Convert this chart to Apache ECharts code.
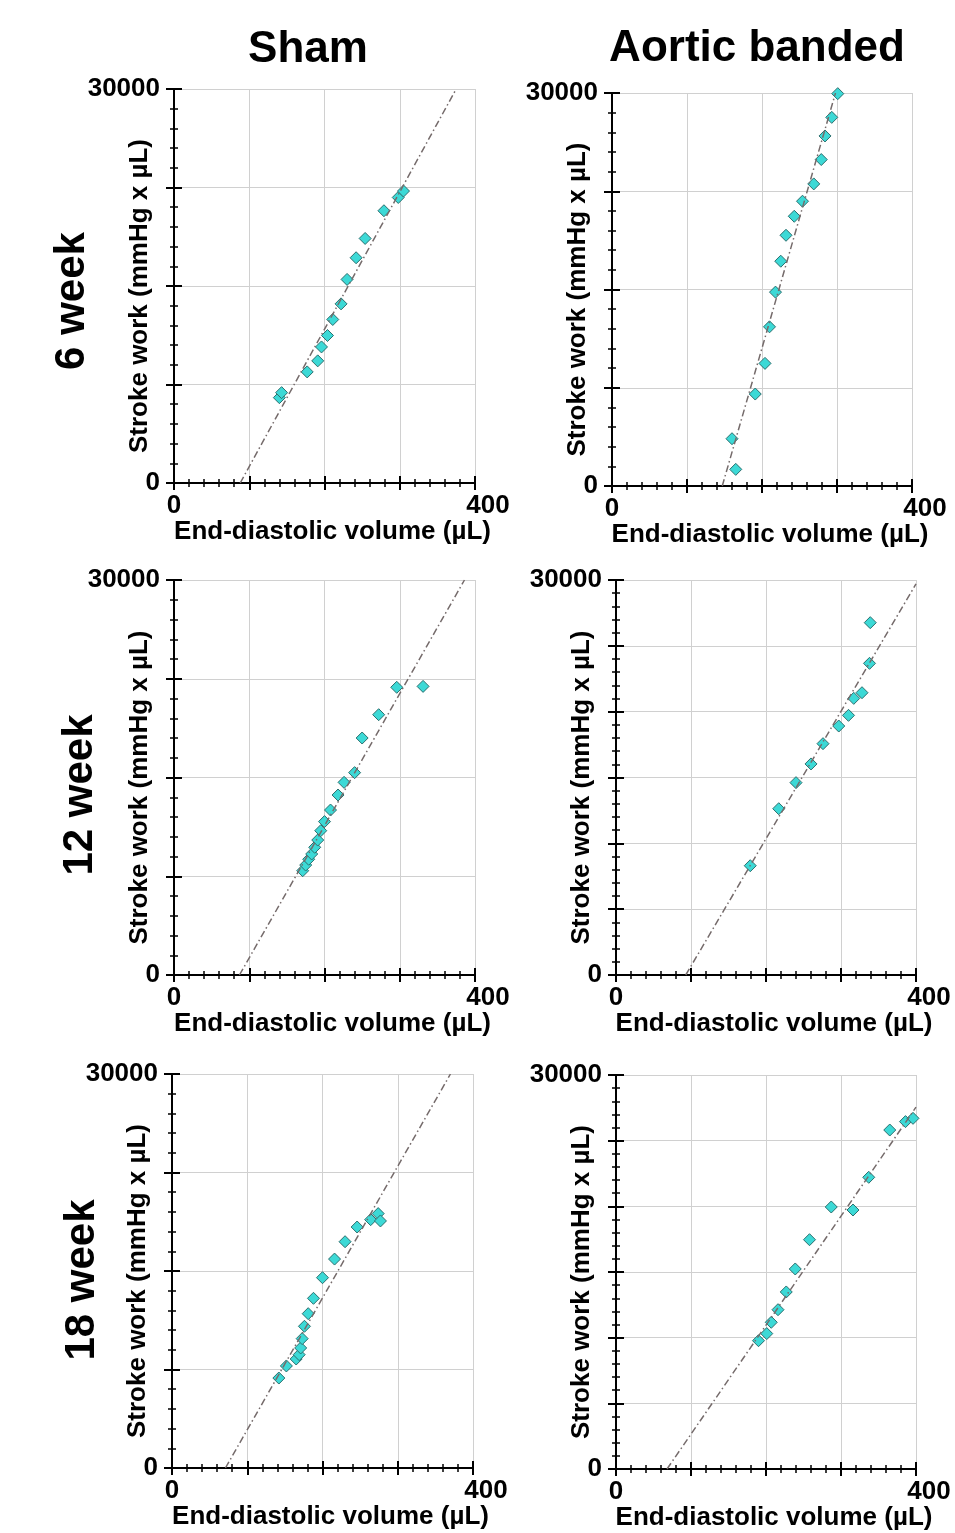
<!DOCTYPE html>
<html>
<head>
    <meta charset="utf-8">
    <title>Stroke work vs end-diastolic volume</title>
    <script src="https://cdn.jsdelivr.net/npm/echarts@6/dist/echarts.min.js"></script>
    <style>
        html, body { margin: 0; padding: 0; background: #fff; }
        #main { width: 955px; height: 1533px; }
    </style>
</head>
<body>
<div id="main"></div>
<script type="text/javascript">
    // data: x = end-diastolic volume (uL), y = stroke work (mmHg x uL)
    var sham6Edv = [140, 143, 177, 191, 196, 204, 211, 222, 230, 242, 254, 279, 298, 305];
    var sham6Sw = [6500, 6880, 8460, 9300, 10360, 11230, 12450, 13640, 15500, 17150, 18620, 20730, 21740, 22230];
    var ab6Edv = [165, 160, 191, 204, 210, 218, 225, 232, 243, 254, 269, 279, 284, 293, 301];
    var ab6Sw = [1270, 3610, 7020, 9360, 12150, 14800, 17160, 19140, 20590, 21740, 23060, 24920, 26720, 28140, 29950];

    var sham12Edv = [171, 175, 179, 183, 187, 191, 195, 200, 208, 218, 226, 240, 250, 272, 296, 331];
    var sham12Sw = [7920, 8350, 8790, 9190, 9700, 10250, 10960, 11650, 12530, 13670, 14630, 15370, 18000, 19770, 21850, 21920];
    var ab12Edv = [179, 217, 240, 260, 276, 297, 310, 317, 328, 338, 339];
    var ab12Sw = [8300, 12630, 14610, 16030, 17570, 18910, 19720, 21010, 21440, 23670, 26760];

    var sham18Edv = [142, 152, 165, 169, 171, 173, 176, 181, 188, 200, 216, 230, 246, 264, 274, 277];
    var sham18Sw = [6850, 7770, 8300, 8630, 9140, 9850, 10790, 11750, 12920, 14490, 15910, 17230, 18350, 18910, 19370, 18810];
    var ab18Edv = [190, 201, 207, 216, 227, 239, 258, 287, 316, 337, 365, 386, 396];
    var ab18Sw = [9770, 10310, 11170, 12130, 13480, 15230, 17460, 19950, 19720, 22210, 25810, 26450, 26700];

    // end points of the regression lines
    var sham6FitEdv = [88, 375], sham6FitSw = [0, 30000];
    var ab6FitEdv = [147, 298], ab6FitSw = [0, 30000];
    var sham12FitEdv = [87, 386], sham12FitSw = [0, 30000];
    var ab12FitEdv = [93, 400], ab12FitSw = [0, 29700];
    var sham18FitEdv = [71, 370], sham18FitSw = [0, 30000];
    var ab18FitEdv = [68, 400], ab18FitSw = [0, 27550];

    var columnTitles = ['Sham', 'Aortic banded'];
    var rowTitles = ['6 week', '12 week', '18 week'];
    var xTicks = [0, 400];
    var yTicks = [0, 30000];
    var yIntervals = [7500, 7500, 7500, 5000, 7500, 5000];

    var FONT = '"Liberation Sans", Arial, sans-serif';

    var panels = [
        { edv: sham6Edv, sw: sham6Sw, fitX: sham6FitEdv, fitY: sham6FitSw, box: [174, 89, 301, 394] },
        { edv: ab6Edv, sw: ab6Sw, fitX: ab6FitEdv, fitY: ab6FitSw, box: [612, 93, 300, 393] },
        { edv: sham12Edv, sw: sham12Sw, fitX: sham12FitEdv, fitY: sham12FitSw, box: [174, 580, 301, 395] },
        { edv: ab12Edv, sw: ab12Sw, fitX: ab12FitEdv, fitY: ab12FitSw, box: [616, 580, 300, 395] },
        { edv: sham18Edv, sw: sham18Sw, fitX: sham18FitEdv, fitY: sham18FitSw, box: [172, 1074, 301, 394] },
        { edv: ab18Edv, sw: ab18Sw, fitX: ab18FitEdv, fitY: ab18FitSw, box: [616, 1075, 300, 394] }
    ];

    function pairs(xs, ys) {
        return xs.map(function (x, k) { return [x, ys[k]]; });
    }

    var grids = [], xAxes = [], yAxes = [], series = [];

    panels.forEach(function (p, i) {
        grids.push({ left: p.box[0], top: p.box[1], width: p.box[2], height: p.box[3] });

        // main x axis: line, outside ticks, labels, gridlines
        xAxes.push({
            type: 'value', gridIndex: i, position: 'bottom',
            min: xTicks[0], max: xTicks[1], interval: 100,
            axisLine: { show: true, onZero: false, lineStyle: { color: '#000', width: 2 } },
            axisTick: { show: true, inside: false, length: 7, lineStyle: { color: '#000', width: 2 } },
            minorTick: { show: true, splitNumber: 5, length: 4, lineStyle: { color: '#000', width: 1.5 } },
            splitLine: { show: true, lineStyle: { color: '#d0d0d0', width: 1 } },
            axisLabel: {
                margin: 10, color: '#000', fontSize: 26, fontWeight: 'bold', fontFamily: FONT,
                formatter: function (v) {
                    if (v === xTicks[0]) return '' + v;
                    if (v === xTicks[1]) return '{r|' + v + '}';
                    return '';
                },
                rich: { r: { fontSize: 26, fontWeight: 'bold', fontFamily: FONT, color: '#000', padding: [0, 0, 0, 26] } }
            },
            name: 'End-diastolic volume (\u00b5L)', nameLocation: 'middle', nameGap: 36, nameMoveOverlap: false,
            nameTextStyle: { color: '#000', fontSize: 26, fontWeight: 'bold', fontFamily: FONT, padding: [0, 0, 0, 16] }
        });
        // second x axis only for the inside half of the ticks
        xAxes.push({
            type: 'value', gridIndex: i, position: 'bottom',
            min: xTicks[0], max: xTicks[1], interval: 100,
            axisLine: { show: false, onZero: false },
            axisTick: { show: true, inside: true, length: 7, lineStyle: { color: '#000', width: 2 } },
            minorTick: { show: true, splitNumber: 5, length: 4, lineStyle: { color: '#000', width: 1.5 } },
            splitLine: { show: false },
            axisLabel: { show: false }
        });

        yAxes.push({
            type: 'value', gridIndex: i, position: 'left',
            min: yTicks[0], max: yTicks[1], interval: yIntervals[i],
            axisLine: { show: true, onZero: false, lineStyle: { color: '#000', width: 2 } },
            axisTick: { show: true, inside: false, length: 8, lineStyle: { color: '#000', width: 2 } },
            minorTick: { show: true, splitNumber: 5, length: 4, lineStyle: { color: '#000', width: 1.5 } },
            splitLine: { show: true, lineStyle: { color: '#d0d0d0', width: 1 } },
            axisLabel: {
                margin: 14, color: '#000', fontSize: 26, fontWeight: 'bold', fontFamily: FONT,
                formatter: function (v) {
                    return (v === yTicks[0] || v === yTicks[1]) ? '' + v : '';
                }
            },
            name: 'Stroke work (mmHg x \u00b5L)', nameLocation: 'middle', nameGap: 21, nameMoveOverlap: false,
            nameTextStyle: { color: '#000', fontSize: 26, fontWeight: 'bold', fontFamily: FONT, padding: [0, 20, 0, 0] }
        });
        yAxes.push({
            type: 'value', gridIndex: i, position: 'left',
            min: yTicks[0], max: yTicks[1], interval: yIntervals[i],
            axisLine: { show: false, onZero: false },
            axisTick: { show: true, inside: true, length: 8, lineStyle: { color: '#000', width: 2 } },
            minorTick: { show: true, splitNumber: 5, length: 4, lineStyle: { color: '#000', width: 1.5 } },
            splitLine: { show: false },
            axisLabel: { show: false }
        });

        // regression line
        series.push({
            type: 'line', xAxisIndex: 2 * i, yAxisIndex: 2 * i,
            data: pairs(p.fitX, p.fitY),
            symbol: 'none', silent: true,
            lineStyle: { color: '#756b6b', width: 1.5, type: [7, 3, 1.5, 3] }
        });
        // measured points
        series.push({
            type: 'scatter', xAxisIndex: 2 * i, yAxisIndex: 2 * i,
            data: pairs(p.edv, p.sw),
            symbol: 'diamond', symbolSize: 12,
            itemStyle: { color: '#3cd9d6', borderColor: '#2c6f6e', borderWidth: 1, opacity: 1 }
        });
    });

    // column and row headings
    var graphics = [
        { type: 'text', x: 308, y: 50, style: { text: columnTitles[0], font: 'bold 44px ' + FONT, fill: '#000', align: 'center', verticalAlign: 'middle' } },
        { type: 'text', x: 757, y: 49, style: { text: columnTitles[1], font: 'bold 44px ' + FONT, fill: '#000', align: 'center', verticalAlign: 'middle' } }
    ];
    var rowCenters = [[72, 301], [80, 795], [82, 1280]];
    rowTitles.forEach(function (t, r) {
        graphics.push({
            type: 'text', x: rowCenters[r][0], y: rowCenters[r][1], rotation: Math.PI / 2,
            style: { text: t, font: 'bold 42px ' + FONT, fill: '#000', align: 'center', verticalAlign: 'middle' }
        });
    });

    var myChart = echarts.init(document.getElementById('main'), null, { renderer: 'canvas' });
    myChart.setOption({
        backgroundColor: '#fff',
        animation: false,
        grid: grids,
        xAxis: xAxes,
        yAxis: yAxes,
        series: series,
        graphic: graphics
    });
</script>
</body>
</html>
